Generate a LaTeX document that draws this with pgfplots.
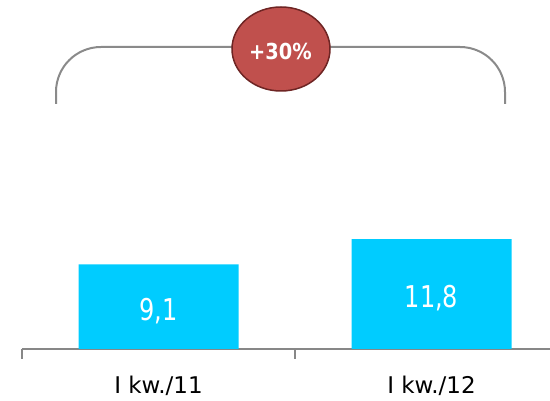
\documentclass[border=0pt]{standalone}
\usepackage{pgfplots}
\pgfplotsset{compat=1.18}
\usepackage{fontspec}
\setmainfont{DejaVu Sans}
\newfontfamily\barfont{DejaVu Sans}[FakeStretch=0.8]
\newfontfamily\condfont{DejaVu Sans}[FakeStretch=0.88]
\definecolor{barcyan}{HTML}{00CCFF}
\definecolor{axisgray}{HTML}{878787}
\definecolor{brgray}{HTML}{8A8A8A}
\definecolor{ellred}{HTML}{C0504D}
\definecolor{elldark}{HTML}{6E2524}
\begin{document}
\begin{tikzpicture}
\begin{axis}[
  at={(22pt,52pt)}, anchor=south west,
  scale only axis, width=528pt, height=349pt,
  xmin=-0.5, xmax=1.434, ymin=0, ymax=37.5,
  axis x line=bottom, axis y line=none,
  x axis line style={-, draw=axisgray, line width=2pt},
  xtick={0,1}, xticklabels={I kw./11, I kw./12},
  minor xtick={-0.5,0.5,1.5},
  major tick length=0pt, minor tick length=10pt, tick align=outside,
  tick style={draw=axisgray, line width=2pt},
  xticklabel style={anchor=base, yshift=-45pt, font=\fontsize{23}{27}\selectfont, text=black},
  ytick=\empty,
  clip=false,
  ybar, bar width=160pt,
  nodes near coords, point meta=explicit symbolic,
  visualization depends on={y \as \rawy},
  nodes near coords style={anchor=base, shift={(axis direction cs:0,-\rawy/2)}, yshift=-13.7pt, text=white, font=\barfont\fontsize{30}{36}\selectfont},
]
\addplot[fill=barcyan, draw=none] coordinates {(0,9.1) [{9,1}] (1,11.8) [{11,8}]};
\end{axis}
\draw[brgray, line width=2pt, rounded corners=45pt] (56pt,297pt) -- (56pt,354pt) -- (505pt,354pt) -- (505pt,297pt);
\draw[elldark, line width=1.5pt, fill=ellred] (281pt,352pt) ellipse [x radius=49pt, y radius=42pt];
\node[anchor=base, text=white, font=\condfont\bfseries\fontsize{22}{26}\selectfont] at (280.5pt,341.7pt) {+30\%};
\pgfresetboundingbox
\path (0,0) rectangle (550pt,401pt);
\end{tikzpicture}
\end{document}
